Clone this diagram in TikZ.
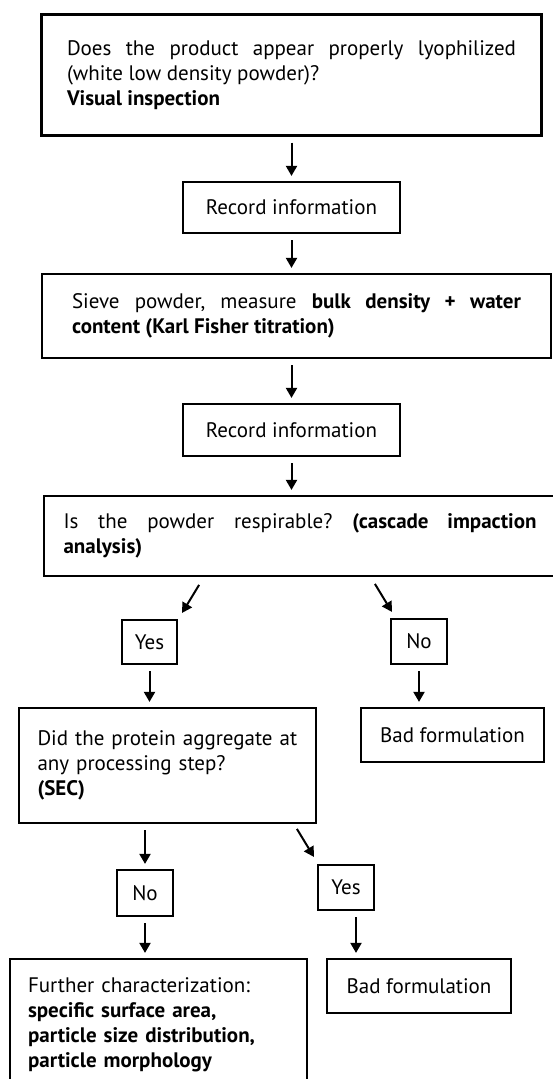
\documentclass[tikz,border=0pt]{standalone}
\usepackage{fontspec}
\setmainfont{PT Sans}
\usetikzlibrary{arrows.meta,calc}
\frenchspacing
\newcommand{\spreadline}[1]{\noindent\makebox[\hsize][s]{#1}}

\tikzset{
  box/.style={draw, line width=1.1pt, inner sep=0pt, font=\fontsize{10.5}{12.5}\selectfont},
  arr/.style={-{Triangle[width=5.5pt,length=5pt]}, line width=1pt},
  gap/.style={shorten <=3pt, shorten >=2.5pt},
}

\begin{document}
\begin{tikzpicture}[x=0.5pt, y=-0.5pt]
\useasboundingbox (0,0) rectangle (552,1079);

\node[box, minimum width=250pt, minimum height=60.5pt, text width=224.5pt, align=justify] (look) at (291.5,75)
  {\spreadline{Does the product appear properly lyophilized}\\(white low density powder)?\\\textbf{Visual inspection}};
\node[box, minimum width=108.5pt, minimum height=25.5pt] (rec1) at (291.5,207.5) {Record information};
\node[box, minimum width=254.5pt, minimum height=42pt, text width=224.5pt, align=justify] (sieve) at (296.5,316)
  {\spreadline{Sieve powder, measure \textbf{bulk density + water}}\\\textbf{content (Karl Fisher titration)}};
\node[box, minimum width=108.5pt, minimum height=26pt] (rec2) at (291.5,430) {Record information};
\node[box, minimum width=256pt, minimum height=40pt, text width=236.5pt, align=justify] (resp) at (300,536)
  {\spreadline{Is the powder respirable? \textbf{(cascade impaction}}\\\textbf{analysis)}};

\node[box, minimum width=27.5pt, minimum height=22pt] (yes1) at (149.5,642) {Yes};
\node[box, minimum width=28pt, minimum height=22.5pt] (no1) at (419,641.5) {No};
\node[box, minimum width=148.5pt, minimum height=57.5pt, text width=130pt, align=left] (sec) at (167.5,765.5)
  {Did the protein aggregate at\\any processing step?\\\textbf{(SEC)}};
\node[box, minimum width=91.5pt, minimum height=27pt] (bad1) at (452.5,735) {Bad formulation};

\node[box, minimum width=28pt, minimum height=23pt] (no2) at (145,893) {No};
\node[box, minimum width=28pt, minimum height=22.5pt] (yes2) at (346,887.5) {Yes};
\node[box, minimum width=148.5pt, minimum height=66pt, text width=130.5pt, align=left] (more) at (158.5,1025)
  {Further characterization:\\\textbf{specific surface area,}\\\textbf{particle size distribution,}\\\textbf{particle morphology}};
\node[box, minimum width=92pt, minimum height=27pt] (bad2) at (419,986) {Bad formulation};

% main line
\draw[arr, gap] (look.south) -- (look.south |- rec1.north);
\draw[arr, gap] (rec1.south) -- (rec1.south |- sieve.north);
\draw[arr, gap] (sieve.south -| rec2) -- (rec2.north);
\draw[arr, gap] (rec2.south) -- (rec2.south |- resp.north);

% respirable?
\draw[arr] ($(yes1.north east)+(21,-34)$) -- ($(yes1.north east)+(4,-6)$);
\draw[arr] ($(no1.north west)+(-15,-34)$) -- ($(no1.north west)+(2,-6)$);
\draw[arr, gap] (yes1.south) -- (yes1.south |- sec.north);
\draw[arr, gap] (no1.south) -- (no1.south |- bad1.north);

% aggregation?
\draw[arr, gap] (sec.south -| no2) -- (no2.north);
\draw[arr] ($(yes2.north west)+(-20,-35)$) -- ($(yes2.north west)+(-3,-7)$);
\coordinate (yes2out) at ([xshift=5pt]yes2.south);
\draw[arr, gap] (yes2out) -- (yes2out |- bad2.north);
\draw[arr, gap] (no2.south) -- (no2.south |- more.north);

\end{tikzpicture}
\end{document}
